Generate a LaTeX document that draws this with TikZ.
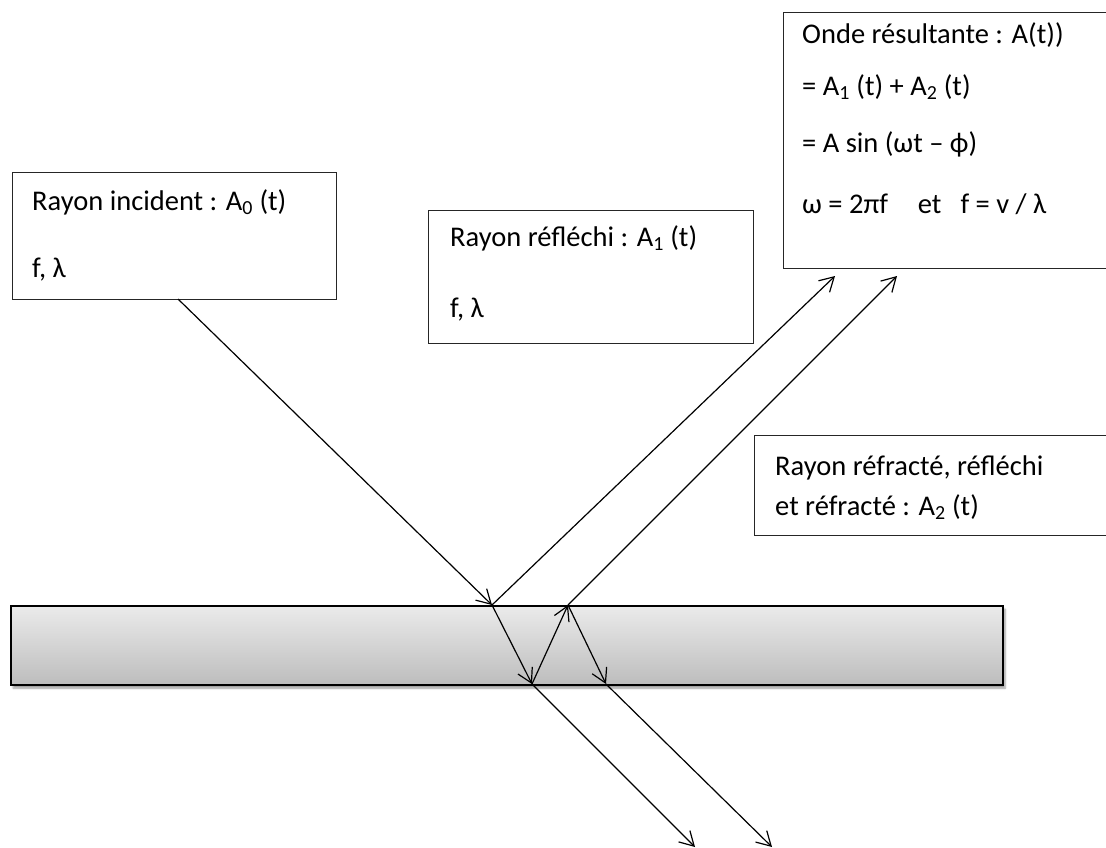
\documentclass[tikz,border=0pt]{standalone}
\usepackage{fontspec}
\setmainfont{Carlito}
\usetikzlibrary{arrows.meta,shadows.blur}
\begin{document}
\begin{tikzpicture}[x=1pt,y=-1pt,
  txt/.style={anchor=base west,inner sep=0pt,font=\fontsize{28.5}{32}\selectfont},
  infobox/.style={draw=black!85,line width=1pt,fill=white,anchor=north west,inner sep=0pt},
  ray/.style={line width=1.2pt,-{Straight Barb[length=14pt,width=16pt,line width=1.2pt]}}]
\useasboundingbox (0,0) rectangle (1106,847);
\clip (0,0) rectangle (1106,847);
% slab
\node[anchor=north west,minimum width=992pt,minimum height=79pt,inner sep=0pt,
  draw=black,line width=2.2pt,top color=black!8,bottom color=black!26,
  blur shadow={shadow xshift=2pt,shadow yshift=-3pt,shadow blur steps=6,shadow opacity=40}] (slab) at (10,605) {};
% boxes
\node[infobox,minimum width=324pt,minimum height=127pt] (inc) at (12,172) {};
\node[infobox,minimum width=325pt,minimum height=133pt] (refl) at (428,210) {};
\node[infobox,minimum width=340pt,minimum height=256pt] (res) at (783,12) {};
\node[infobox,minimum width=360pt,minimum height=100pt] (refr) at (754,435) {};
% texts
\node[txt] (t1) at (32,210) {Rayon incident : A\textsubscript{0} (t)};
\node[txt] (t2) at (32,277) {f, λ};
\node[txt] (t3) at (450,246) {Rayon réfléchi : A\textsubscript{1} (t)};
\node[txt] (t4) at (450,317) {f, λ};
\node[txt] (t5) at (802,43) {Onde résultante : A(t))};
\node[txt] (t6) at (802,95) {= A\textsubscript{1} (t) + A\textsubscript{2} (t)};
\node[txt] (t7) at (802,152) {= A sin (ωt – ϕ)};
\node[txt] (t8) at (802,213) {ω = 2πf\hspace{1.05em}et\hspace{0.67em}f = v / λ};
\node[txt] (t9) at (775,475) {Rayon réfracté, réfléchi};
\node[txt] (t10) at (775,515) {et réfracté : A\textsubscript{2} (t)};
% ray points
\coordinate (s) at (178,299);
\coordinate (p1) at (492,605);
\coordinate (q1) at (532,684);
\coordinate (p2) at (568,605);
\coordinate (q2) at (606,684);
\coordinate (r1) at (835,276);
\coordinate (r2) at (897,276);
\coordinate (e1) at (695,847);
\coordinate (e2) at (772,847);
% rays
\draw[ray] (s) -- (p1);
\draw[ray] (p1) -- (q1);
\draw[ray] (q1) -- (p2);
\draw[ray] (p2) -- (q2);
\draw[ray] (p1) -- (r1);
\draw[ray] (p2) -- (r2);
\draw[ray] (q1) -- (e1);
\draw[ray] (q2) -- (e2);
\end{tikzpicture}
\end{document}
